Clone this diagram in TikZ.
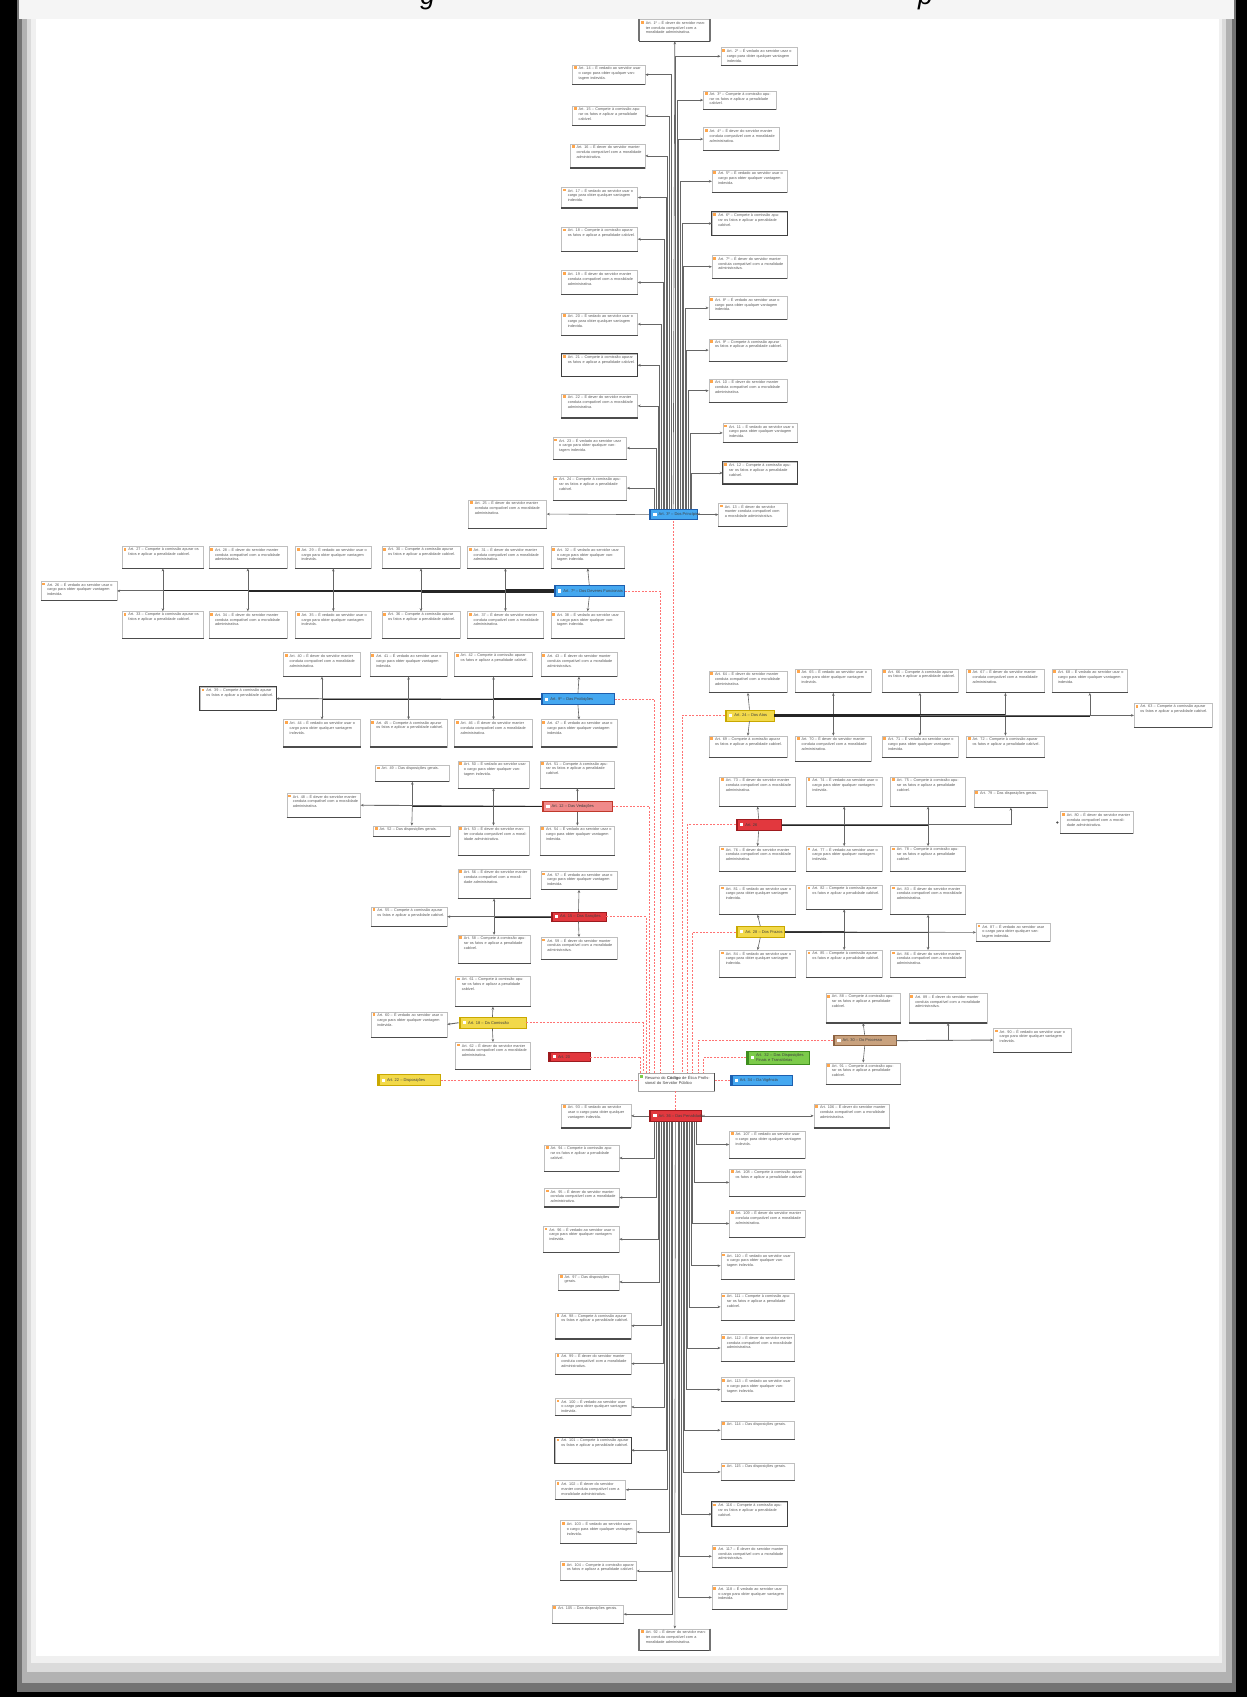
\documentclass[tikz,border=0pt]{standalone}
\usepackage{fontspec}
\setmainfont{Liberation Sans}
\usetikzlibrary{arrows.meta,calc}
\definecolor{hblue}{HTML}{45A8F0}\definecolor{hblueD}{HTML}{1D5FAF}
\definecolor{hred}{HTML}{E2383E}\definecolor{hredD}{HTML}{9E1A1E}
\definecolor{hsal}{HTML}{F08A8A}\definecolor{hsalD}{HTML}{C0392B}
\definecolor{hyel}{HTML}{F2D94A}\definecolor{hyelD}{HTML}{C9A800}
\definecolor{hgrn}{HTML}{7CCB4A}\definecolor{hgrnD}{HTML}{3E8E1E}
\definecolor{htan}{HTML}{C9A27E}\definecolor{htanD}{HTML}{8B6240}
\def\U{0.54125}
\tikzset{
 x=0.54125pt, y=-0.54125pt,
 leafbox/.style={draw=black!25, line width=0.25pt, fill=white, inner sep=0pt},
 leaftext/.style={font=\fontsize{1.9}{2.4}\selectfont, text=black!65, inner sep=0pt, align=left},
 icon/.style={fill=orange!70},
 conn/.style={draw=black!60, line width=0.3pt, -{Stealth[length=1.5pt,width=1.3pt]}},
 bundle/.style={draw=black!85, line width=0.5pt},
 reddot/.style={draw=red!55, line width=0.3pt, dash pattern=on 1pt off 0.7pt},
 hubtext/.style={font=\fontsize{2}{2.5}\selectfont, text=black!75, inner sep=0pt, align=left},
}
\newcommand\tA[1]{Art. #1 – É dever do servidor manter conduta compatível com a moralidade administrativa.}
\newcommand\tB[1]{Art. #1 – É vedado ao servidor usar o cargo para obter qualquer vantagem indevida.}
\newcommand\tC[1]{Art. #1 – Compete à comissão apurar os fatos e aplicar a penalidade cabível.}
\newcommand\tD[1]{Art. #1 – Das disposições gerais.}
\newcommand\leaf[6]{%
 \pgfmathsetmacro\lw{(#4-#2)*\U}%
 \pgfmathsetmacro\lh{(#5-#3)*\U}%
 \pgfmathsetmacro\tw{\lw-4.2}%
 \node[leafbox, minimum width=\lw pt, minimum height=\lh pt] (#1) at ({(#2+#4)/2},{(#3+#5)/2}) {};
 \draw[draw=black!70, line width=0.55pt] (#1.south west) -- (#1.south east);
 \fill[icon] ([shift={(0.8pt,-0.8pt)}]#1.north west) rectangle ++(1.4pt,-1.4pt);
 \node[leaftext, text width=\tw pt, anchor=north west] (#1t) at ([shift={(3pt,-0.7pt)}]#1.north west) {#6};
}
\newcommand\hub[8]{%
 \pgfmathsetmacro\lw{(#4-#2)*\U}%
 \pgfmathsetmacro\lh{(#5-#3)*\U}%
 \node[draw=#7, line width=0.3pt, fill=#6, minimum width=\lw pt, minimum height=\lh pt, inner sep=0pt] (#1) at ({(#2+#4)/2},{(#3+#5)/2}) {};
 \fill[#7] (#1.north west) rectangle ([xshift=1.2pt]#1.south west);
 \fill[white] ([shift={(2.2pt,0.8pt)}]#1.west) rectangle ++(1.6pt,-1.6pt);
 \node[hubtext, anchor=west] (#1t) at ([xshift=4.6pt]#1.west) {#8};
}
\newcommand\boldframe[1]{\draw[black!75, line width=0.5pt] (#1.south west) rectangle (#1.north east);}
\newcommand\sidebars[1]{\draw[black!55, line width=0.9pt] (#1.north west) -- (#1.south west) (#1.north east) -- (#1.south east);}
\begin{document}
\begin{tikzpicture}
\useasboundingbox (0,0) rectangle (1152,1568);
% page and shadow
\fill[black] (0,0) rectangle (1152,1568);
\fill[black!55] (16,0) rectangle (1142,1563);
\fill[black!30] (20,0) rectangle (1138,1555);
\fill[black!14] (25,0) rectangle (1133,1545);
\fill[black!6] (29,0) rectangle (1129,1537);
\fill[black!4] (18,0) rectangle (1140,18);
\fill[white] (33,18) rectangle (1126,1530);
\begin{scope}
\clip (0,0) rectangle (1152,10);
\node[font=\fontsize{13}{13}\selectfont\itshape, anchor=base, inner sep=0pt] (tg) at (395,4) {g};
\node[font=\fontsize{13}{13}\selectfont\itshape, anchor=base, inner sep=0pt] (tp) at (855,4) {p};
\end{scope}

% ================= TOP CLUSTER =================
\hub{H1}{600}{471}{644}{480}{hblue}{hblueD}{Art. 3º – Dos Princípios}
\leaf{Top}{591}{18}{656}{38}{\tA{1º}}
\sidebars{Top}
\leaf{Ra}{666}{44}{737}{60}{\tB{2º}}
\leaf{Rb}{650}{84}{717}{101}{\tC{3º}}
\leaf{Rc}{650}{118}{720}{139}{\tA{4º}}
\leaf{Rd}{658}{157}{727}{178}{\tB{5º}}
\leaf{Re}{658}{196}{727}{217}{\tC{6º}}
\leaf{Rf}{658}{236}{727}{257}{\tA{7º}}
\leaf{Rg}{655}{274}{727}{295}{\tB{8º}}
\leaf{Rh}{655}{313}{727}{334}{\tC{9º}}
\leaf{Ri}{655}{350}{727}{372}{\tA{10}}
\leaf{Rj}{668}{391}{737}{409}{\tB{11}}
\leaf{Rk}{668}{427}{737}{447}{\tC{12}}
\leaf{Rx}{664}{465}{727}{486}{\tA{13}}
\leaf{La}{529}{60}{596}{78}{\tB{14}}
\leaf{Lb}{529}{98}{596}{116}{\tC{15}}
\leaf{Lc}{527}{133}{596}{155}{\tA{16}}
\leaf{Ld}{519}{173}{589}{192}{\tB{17}}
\leaf{Le}{519}{210}{589}{232}{\tC{18}}
\leaf{Lf}{519}{250}{589}{272}{\tA{19}}
\leaf{Lg}{519}{289}{589}{310}{\tB{20}}
\leaf{Lh}{519}{327}{589}{348}{\tC{21}}
\leaf{Li}{519}{364}{589}{386}{\tA{22}}
\leaf{Lj}{511}{404}{579}{424}{\tB{23}}
\leaf{Lk}{511}{440}{579}{462}{\tC{24}}
\leaf{Lx}{433}{462}{505}{488}{\tA{25}}
\boldframe{Re}\boldframe{Rk}\boldframe{Lh}
\draw[conn] (H1.north) -- (Top.south);
\foreach \n/\d in {La/-2,Lb/-3.5,Lc/-5,Ld/-6.5,Le/-8,Lf/-9.5,Lg/-11,Lh/-12.5,Li/-14,Lj/-15.5,Lk/-17}
  {\draw[conn] ($(H1.north)+(\d,0)$) |- (\n.east);}
\foreach \n/\d in {Ra/2,Rb/3.5,Rc/5,Rd/6.5,Re/8,Rf/9.5,Rg/11,Rh/12.5,Ri/14,Rj/15.5,Rk/17}
  {\draw[conn] ($(H1.north)+(\d,0)$) |- (\n.west);}
\draw[conn] (H1.east) -- (Rx.west);
\draw[conn] (H1.west) -- (Lx.east);

% ================= CENTER =================
\node[draw=black!35, line width=0.3pt, fill=white, minimum width={70*\U pt}, minimum height={16*\U pt}, inner sep=0pt] (C) at (625,1000) {};
\draw[black!70, line width=0.8pt] (C.north east) -- (C.south east);
\fill[hgrn] ([shift={(1pt,-1pt)}]C.north west) rectangle ++(1.5pt,-1.5pt);
\node[hubtext, text width={60*\U pt}, anchor=north west] (Ct) at ([shift={(3.2pt,-1.2pt)}]C.north west) {Resumo do \textbf{Código} de Ética Profissional do Servidor Público};

% ================= LEFT HUBS =================
% H2
\hub{H2}{512}{541}{577}{551}{hblue}{hblueD}{Art. 7º – Dos Deveres Funcionais}
\leaf{FLb}{38}{537}{108}{555}{\tB{26}}
\leaf{Ab1}{113}{505}{188}{525}{\tC{27}}
\leaf{Ab2}{193}{505}{265}{525}{\tA{28}}
\leaf{Ab3}{273}{505}{343}{525}{\tB{29}}
\leaf{Ab4}{353}{505}{425}{525}{\tC{30}}
\leaf{Ab5}{432}{505}{502}{525}{\tA{31}}
\leaf{Ab6}{509}{505}{577}{525}{\tB{32}}
\leaf{Bb1}{113}{565}{188}{590}{\tC{33}}
\leaf{Bb2}{193}{565}{265}{590}{\tA{34}}
\leaf{Bb3}{273}{565}{343}{590}{\tB{35}}
\leaf{Bb4}{353}{565}{425}{590}{\tC{36}}
\leaf{Bb5}{432}{565}{502}{590}{\tA{37}}
\leaf{Bb6}{509}{565}{577}{590}{\tB{38}}
\draw[conn, line width=0.45pt] (H2.west) -- (FLb.east);
\foreach \a/\b/\o in {Ab1/Bb1/0,Ab2/Bb2/0.5,Ab3/Bb3/-0.5,Ab4/Bb4/1,Ab5/Bb5/-1}{
  \draw[bundle] ($(H2.west)+(0,\o)$) -- ($(H2.west -| \a.south)+(0,\o)$);
  \draw[conn] (H2.west -| \a.south) -- (\a.south);
  \draw[conn] (H2.west -| \a.south) -- (\b.north);}
\draw[conn] (H2.north) -- (Ab6.south);
\draw[conn] (H2.south) -- (Bb6.north);
% H3
\hub{H3}{500}{641}{568}{651}{hblue}{hblueD}{Art. 9º – Das Proibições}
\leaf{FLc}{185}{635}{255}{656}{\tC{39}}
\boldframe{FLc}
\leaf{Ac1}{262}{603}{333}{625}{\tA{40}}
\leaf{Ac2}{342}{603}{413}{625}{\tB{41}}
\leaf{Ac3}{420}{603}{492}{625}{\tC{42}}
\leaf{Ac4}{500}{603}{570}{625}{\tA{43}}
\leaf{Bc1}{262}{665}{333}{690}{\tB{44}}
\leaf{Bc2}{342}{665}{413}{690}{\tC{45}}
\leaf{Bc3}{420}{665}{492}{690}{\tA{46}}
\leaf{Bc4}{500}{665}{570}{690}{\tB{47}}
\draw[conn, line width=0.45pt] (H3.west) -- (FLc.east);
\foreach \a/\b/\o in {Ac1/Bc1/0,Ac2/Bc2/0.6,Ac3/Bc3/-0.6}{
  \draw[bundle] ($(H3.west)+(0,\o)$) -- ($(H3.west -| \a.south)+(0,\o)$);
  \draw[conn] (H3.west -| \a.south) -- (\a.south);
  \draw[conn] (H3.west -| \a.south) -- (\b.north);}
\draw[conn] (H3.north) -- (Ac4.south);
\draw[conn] (H3.south) -- (Bc4.north);
% H4
\hub{H4}{501}{740}{566}{750}{hsal}{hsalD}{Art. 12 – Das Vedações}
\leaf{FLd}{265}{733}{333}{755}{\tA{48}}
\leaf{Ad1}{347}{707}{415}{722}{\tD{49}}
\leaf{Ad2}{423}{703}{489}{728}{\tB{50}}
\leaf{Ad3}{499}{703}{568}{728}{\tC{51}}
\leaf{Bd1}{345}{763}{416}{773}{\tD{52}}
\leaf{Bd2}{423}{763}{489}{790}{\tA{53}}
\leaf{Bd3}{499}{763}{568}{790}{\tB{54}}
\draw[conn, line width=0.45pt] (H4.west) -- (FLd.east);
\foreach \a/\b/\o in {Ad1/Bd1/0,Ad2/Bd2/0.6}{
  \draw[bundle] ($(H4.west)+(0,\o)$) -- ($(H4.west -| \a.south)+(0,\o)$);
  \draw[conn] (H4.west -| \a.south) -- (\a.south);
  \draw[conn] (H4.west -| \a.south) -- (\b.north);}
\draw[conn] (H4.north) -- (Ad3.south);
\draw[conn] (H4.south) -- (Bd3.north);
% H5
\hub{H5}{509}{843}{560}{851}{hred}{hredD}{Art. 15 – Das Sanções}
\leaf{FLe}{343}{838}{413}{856}{\tC{55}}
\leaf{Ae1}{423}{803}{490}{830}{\tA{56}}
\leaf{Ae2}{500}{805}{570}{822}{\tB{57}}
\leaf{Be1}{423}{864}{490}{890}{\tC{58}}
\leaf{Be2}{500}{866}{570}{886}{\tA{59}}
\draw[conn, line width=0.45pt] (H5.west) -- (FLe.east);
\draw[bundle] ($(H5.west)+(0,0.5)$) -- ($(H5.west -| Ae1.south)+(0,0.5)$);
\draw[conn] (H5.west -| Ae1.south) -- (Ae1.south);
\draw[conn] (H5.west -| Ae1.south) -- (Be1.north);
\draw[conn] (H5.north) -- (Ae2.south);
\draw[conn] (H5.south) -- (Be2.north);
% H6
\hub{H6}{424}{940}{486}{950}{hyel}{hyelD}{Art. 18 – Da Comissão}
\leaf{FLf}{343}{935}{413}{958}{\tB{60}}
\leaf{Af1}{421}{902}{490}{930}{\tC{61}}
\leaf{Bf1}{421}{963}{490}{988}{\tA{62}}
\draw[conn, line width=0.45pt] (H6.west) -- (FLf.east);
\draw[conn] (H6.north) -- (Af1.south);
\draw[conn] (H6.south) -- (Bf1.north);
% H7, H8
\hub{H7}{507}{972}{545}{981}{hred}{hredD}{Art. 20}
\hub{H8}{349}{993}{407}{1003}{hyel}{hyelD}{Art. 22 – Disposições}

% ================= RIGHT HUBS =================
% R1
\hub{R1}{670}{656}{715}{666}{hyel}{hyelD}{Art. 24 – Dos Atos}
\leaf{FRg}{1048}{650}{1120}{672}{\tC{63}}
\leaf{Ag1}{655}{620}{727}{640}{\tA{64}}
\leaf{Ag2}{735}{618}{805}{640}{\tB{65}}
\leaf{Ag3}{815}{618}{885}{640}{\tC{66}}
\leaf{Ag4}{893}{618}{965}{640}{\tA{67}}
\leaf{Ag5}{972}{618}{1042}{640}{\tB{68}}
\leaf{Bg1}{655}{680}{727}{700}{\tC{69}}
\leaf{Bg2}{735}{680}{805}{703}{\tA{70}}
\leaf{Bg3}{815}{680}{885}{700}{\tB{71}}
\leaf{Bg4}{893}{680}{965}{700}{\tC{72}}
\draw[conn, line width=0.45pt] (R1.east) -- (FRg.west);
\foreach \a/\b/\o in {Ag2/Bg2/0,Ag3/Bg3/0.5,Ag4/Bg4/-0.5}{
  \draw[bundle] ($(R1.east)+(0,\o)$) -- ($(R1.east -| \a.south)+(0,\o)$);
  \draw[conn] (R1.east -| \a.south) -- (\a.south);
  \draw[conn] (R1.east -| \a.south) -- (\b.north);}
\draw[bundle] ($(R1.east)+(0,1)$) -- ($(R1.east -| Ag5.south)+(0,1)$);
\draw[conn] (R1.east -| Ag5.south) -- (Ag5.south);
\draw[conn] (R1.north) -- (Ag1.south);
\draw[conn] (R1.south) -- (Bg1.north);
% R2
\hub{R2}{680}{757}{722}{767}{hred}{hredD}{Art. 26}
\leaf{Ah1}{665}{718}{735}{745}{\tA{73}}
\leaf{Ah2}{745}{718}{815}{745}{\tB{74}}
\leaf{Ah3}{823}{718}{892}{745}{\tC{75}}
\leaf{Bh1}{665}{782}{735}{805}{\tA{76}}
\leaf{Bh2}{745}{782}{815}{805}{\tB{77}}
\leaf{Bh3}{823}{782}{892}{805}{\tC{78}}
\leaf{RRh}{900}{730}{968}{746}{\tD{79}}
\leaf{Xh}{980}{750}{1047}{770}{\tA{80}}
\fill[black!70] ([xshift=-1.5pt]Xh.west) circle (0.6pt);
\foreach \a/\b/\o in {Ah2/Bh2/0,Ah3/Bh3/0.5}{
  \draw[bundle] ($(R2.east)+(0,\o)$) -- ($(R2.east -| \a.south)+(0,\o)$);
  \draw[conn] (R2.east -| \a.south) -- (\a.south);
  \draw[conn] (R2.east -| \a.south) -- (\b.north);}
\draw[conn] (R2.east) -| (RRh.south);
\draw[conn] (R2.north) -- (Ah1.south);
\draw[conn] (R2.south) -- (Bh1.north);
% R3
\hub{R3}{680}{856}{725}{866}{hyel}{hyelD}{Art. 28 – Dos Prazos}
\leaf{Ai1}{665}{818}{735}{845}{\tB{81}}
\leaf{Ai2}{745}{818}{815}{840}{\tC{82}}
\leaf{Ai3}{823}{818}{892}{845}{\tA{83}}
\leaf{Bi1}{665}{878}{735}{903}{\tB{84}}
\leaf{Bi2}{745}{878}{815}{903}{\tC{85}}
\leaf{Bi3}{823}{878}{892}{903}{\tA{86}}
\leaf{RRi}{902}{853}{970}{870}{\tB{87}}
\foreach \a/\b/\o in {Ai2/Bi2/0,Ai3/Bi3/0.5}{
  \draw[bundle] ($(R3.east)+(0,\o)$) -- ($(R3.east -| \a.south)+(0,\o)$);
  \draw[conn] (R3.east -| \a.south) -- (\a.south);
  \draw[conn] (R3.east -| \a.south) -- (\b.north);}
\draw[conn] (R3.east) -- (RRi.west);
\draw[conn] (R3.north) -- (Ai1.south);
\draw[conn] (R3.south) -- (Bi1.north);
% R4
\hub{R4}{770}{957}{828}{966}{htan}{htanD}{Art. 30 – Do Processo}
\leaf{Aj1}{763}{918}{832}{945}{\tC{88}}
\leaf{Aj2}{840}{918}{912}{945}{\tA{89}}
\leaf{RRj}{918}{950}{990}{972}{\tB{90}}
\leaf{Bj1}{763}{982}{832}{1002}{\tC{91}}
\draw[conn] (R4.north) -- (Aj1.south);
\draw[conn] (R4.south) -- (Bj1.north);
\draw[conn] (R4.east) -| (Aj2.south);
\draw[conn, line width=0.45pt] (R4.east) -- (RRj.west);
% R5, R6
\node[draw=hgrnD, line width=0.3pt, fill=hgrn, minimum width={58*\U pt}, minimum height={12*\U pt}, inner sep=0pt] (R5) at (719,977) {};
\fill[hgrnD] (R5.north west) rectangle ([xshift=1.2pt]R5.south west);
\fill[white] ([shift={(2.2pt,0.8pt)}]R5.west) rectangle ++(1.6pt,-1.6pt);
\node[hubtext, anchor=west, text width={50*\U pt}] (R5t) at ([xshift=4.6pt]R5.west) {Art. 32 – Das Disposições Finais e Transitórias};
\hub{R6}{675}{994}{732}{1003}{hblue}{hblueD}{Art. 34 – Da Vigência}

% ================= RED DOTTED LINKS =================
\draw[reddot] (C.north -| H1.south) -- (H1.south);
\draw[reddot] (H2.east) -| ($(C.north)+(-15,0)$);
\draw[reddot] (H3.east) -| ($(C.north)+(-20,0)$);
\draw[reddot] (H4.east) -| ($(C.north)+(-25,0)$);
\draw[reddot] (H5.east) -| ($(C.north)+(-28,0)$);
\draw[reddot] (H6.east) -| ($(C.north)+(-31,0)$);
\draw[reddot] (H7.east) -| ($(C.north)+(-33,0)$);
\draw[reddot] (H8.east) -- (H8.east -| C.west);
\draw[reddot] (R1.west) -| ($(C.north)+(5,0)$);
\draw[reddot] (R2.west) -| ($(C.north)+(10,0)$);
\draw[reddot] (R3.west) -| ($(C.north)+(15,0)$);
\draw[reddot] (R4.west) -| ($(C.north)+(20,0)$);
\draw[reddot] (R5.west) -| ($(C.north)+(25,0)$);
\draw[reddot] (R6.west -| C.east) -- (R6.west);

% ================= BOTTOM CLUSTER =================
\hub{B}{600}{1026}{648}{1036}{hred}{hredD}{Art. 36 – Das Penalidades}
\draw[reddot] (C.south -| B.north) -- (B.north);
\leaf{Bot}{591}{1505}{656}{1525}{\tA{92}}
\sidebars{Bot}
\leaf{BLx}{519}{1020}{583}{1042}{\tB{93}}
\leaf{BLa}{503}{1058}{572}{1082}{\tC{94}}
\leaf{BLb}{503}{1098}{572}{1115}{\tA{95}}
\leaf{BLc}{502}{1133}{572}{1157}{\tB{96}}
\leaf{BLd}{516}{1177}{572}{1192}{\tD{97}}
\leaf{BLe}{513}{1213}{583}{1237}{\tC{98}}
\leaf{BLf}{513}{1250}{583}{1270}{\tA{99}}
\leaf{BLg}{513}{1292}{583}{1308}{\tB{100}}
\leaf{BLh}{513}{1328}{583}{1352}{\tC{101}}
\leaf{BLi}{513}{1368}{578}{1385}{\tA{102}}
\leaf{BLj}{518}{1405}{588}{1426}{\tB{103}}
\leaf{BLk}{518}{1443}{588}{1460}{\tC{104}}
\leaf{BLl}{510}{1483}{576}{1500}{\tD{105}}
\leaf{BRx}{752}{1020}{822}{1042}{\tA{106}}
\leaf{BRa}{674}{1045}{744}{1070}{\tB{107}}
\leaf{BRb}{674}{1080}{744}{1105}{\tC{108}}
\leaf{BRc}{674}{1118}{744}{1143}{\tA{109}}
\leaf{BRd}{666}{1157}{734}{1182}{\tB{110}}
\leaf{BRe}{666}{1195}{734}{1220}{\tC{111}}
\leaf{BRf}{666}{1233}{734}{1258}{\tA{112}}
\leaf{BRg}{666}{1273}{734}{1295}{\tB{113}}
\leaf{BRh}{666}{1313}{734}{1330}{\tD{114}}
\leaf{BRi}{666}{1352}{734}{1368}{\tD{115}}
\leaf{BRj}{658}{1388}{727}{1410}{\tC{116}}
\leaf{BRk}{658}{1428}{727}{1448}{\tA{117}}
\leaf{BRl}{658}{1465}{727}{1487}{\tB{118}}
\boldframe{BLh}\boldframe{BRj}
\draw[conn] (B.south) -- (Bot.north);
\draw[conn] (B.west) -- (BLx.east);
\draw[conn] (B.east) -- (BRx.west);
\foreach \n/\d in {BLa/-19,BLb/-17.5,BLc/-16,BLd/-14.5,BLe/-13,BLf/-11.5,BLg/-10,BLh/-8.5,BLi/-7,BLj/-5.5,BLk/-4,BLl/-2.5}
  {\draw[conn] ($(B.south)+(\d,0)$) |- (\n.east);}
\foreach \n/\d in {BRa/19,BRb/17.5,BRc/16,BRd/14.5,BRe/13,BRf/11.5,BRg/10,BRh/8.5,BRi/7,BRj/5.5,BRk/4,BRl/2.5}
  {\draw[conn] ($(B.south)+(\d,0)$) |- (\n.west);}
\end{tikzpicture}
\end{document}
